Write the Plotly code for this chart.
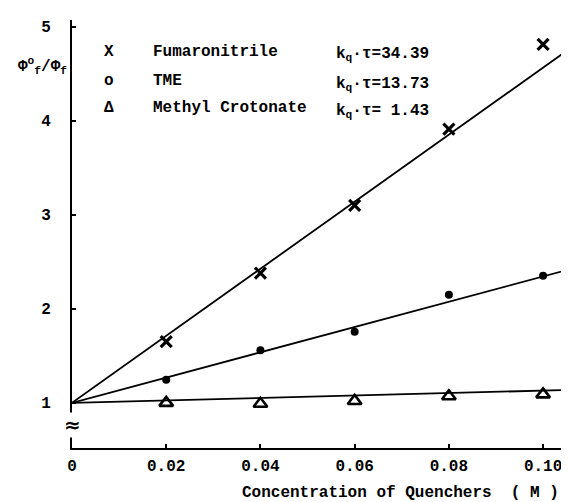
import plotly.graph_objects as go

# ---- data ----
conc = [0.02, 0.04, 0.06, 0.08, 0.10]
fumaronitrile = [1.65, 2.38, 3.10, 3.91, 4.81]
tme = [1.245, 1.56, 1.755, 2.15, 2.35]
methyl_crotonate = [1.00, 0.99, 1.02, 1.07, 1.09]

fit_x = [0.0, 0.1072]
fum_fit = [1.0, 4.82]
tme_fit = [1.0, 2.44]
mc_fit = [1.0, 1.14]

series_names = ["Fumaronitrile", "TME", "Methyl Crotonate"]
kq_values = ["34.39", "13.73", " 1.43"]
legend_glyphs = ["X", "o", "Δ"]

x_ticks = [0, 0.02, 0.04, 0.06, 0.08, 0.10]
x_tick_text = ["0", "0.02", "0.04", "0.06", "0.08", "0.10"]
y_ticks = [1, 2, 3, 4, 5]
y_tick_text = ["1", "2", "3", "4", "5"]

FONT = "Liberation Mono"
W, H = 569, 502
L, R, T, B = 64, 0, 12, 62
PW, PH = W - L - R, H - T - B


def px(xp):
    return (xp - L) / PW


def py(yp):
    return (H - B - yp) / PH


fig = go.Figure()
line_style = dict(color="black", width=1.8)
for fy in (fum_fit, tme_fit, mc_fit):
    fig.add_trace(go.Scatter(x=fit_x, y=fy, mode="lines", line=line_style,
                             showlegend=False, hoverinfo="skip", cliponaxis=True))

fig.add_trace(go.Scatter(x=conc, y=fumaronitrile, mode="markers", showlegend=False,
                         marker=dict(symbol="x-thin", size=11, color="black",
                                     line=dict(color="black", width=3.2))))
fig.add_trace(go.Scatter(x=conc, y=tme, mode="markers", showlegend=False,
                         marker=dict(symbol="circle", size=8, color="black")))
fig.add_trace(go.Scatter(x=conc, y=methyl_crotonate, mode="markers", showlegend=False,
                         marker=dict(symbol="triangle-up-open", size=12, color="black",
                                     line=dict(color="black", width=2.6))))

annotations = []
rows_y = [44, 73, 100]
for glyph, name, kq, yp in zip(legend_glyphs, series_names, kq_values, rows_y):
    annotations.append(dict(xref="paper", yref="paper", x=px(101), y=py(yp),
                            text="<b>%s</b>" % glyph, showarrow=False,
                            xanchor="center", yanchor="middle",
                            font=dict(family=FONT, size=16, color="black")))
    annotations.append(dict(xref="paper", yref="paper", x=px(143), y=py(yp),
                            text="<b>%s</b>" % name, showarrow=False,
                            xanchor="left", yanchor="middle",
                            font=dict(family=FONT, size=16, color="black")))
    annotations.append(dict(xref="paper", yref="paper", x=px(326), y=py(yp + 3),
                            text="<b>k<sub>q</sub>·τ=%s</b>" % kq, showarrow=False,
                            xanchor="left", yanchor="middle",
                            font=dict(family=FONT, size=16, color="black")))

# y-axis title
annotations.append(dict(xref="paper", yref="paper", x=px(34), y=py(58),
                        text="<b>Φ<sup>o</sup><sub>f</sub>/Φ<sub>f</sub></b>",
                        showarrow=False, xanchor="center", yanchor="middle",
                        font=dict(family=FONT, size=16, color="black")))
# x-axis title
annotations.append(dict(xref="paper", yref="paper", x=px(232), y=py(485),
                        text="<b>Concentration of Quenchers  ( M )</b>",
                        showarrow=False, xanchor="left", yanchor="middle",
                        font=dict(family=FONT, size=16, color="black")))
# axis break symbol
annotations.append(dict(xref="paper", yref="paper", x=px(64), y=py(417),
                        text="<b>≈</b>", showarrow=False, xanchor="center",
                        yanchor="middle", bgcolor="white", borderpad=0,
                        font=dict(family="DejaVu Sans", size=20, color="black")))

fig.update_layout(
    width=W, height=H,
    margin=dict(l=L, r=R, t=T, b=B, pad=0),
    paper_bgcolor="white", plot_bgcolor="white",
    font=dict(family=FONT, size=16, color="black", weight="bold"),
    annotations=annotations,
    xaxis=dict(range=[0, 0.1072], tickvals=x_ticks, ticktext=x_tick_text,
               showgrid=False, zeroline=False, showline=True, linecolor="black",
               linewidth=2, ticks="inside", ticklen=4, tickwidth=1.5,
               tickcolor="black", ticklabelstandoff=2,
               tickfont=dict(family=FONT, size=16, color="black", weight="bold")),
    yaxis=dict(range=[0.52, 5.07], tickvals=y_ticks, ticktext=y_tick_text,
               showgrid=False, zeroline=False, showline=True, linecolor="black",
               linewidth=2, ticks="inside", ticklen=4, tickwidth=1.5,
               tickcolor="black", ticklabelstandoff=16,
               tickfont=dict(family=FONT, size=16, color="black", weight="bold")),
)

fig.write_html("out.html")
